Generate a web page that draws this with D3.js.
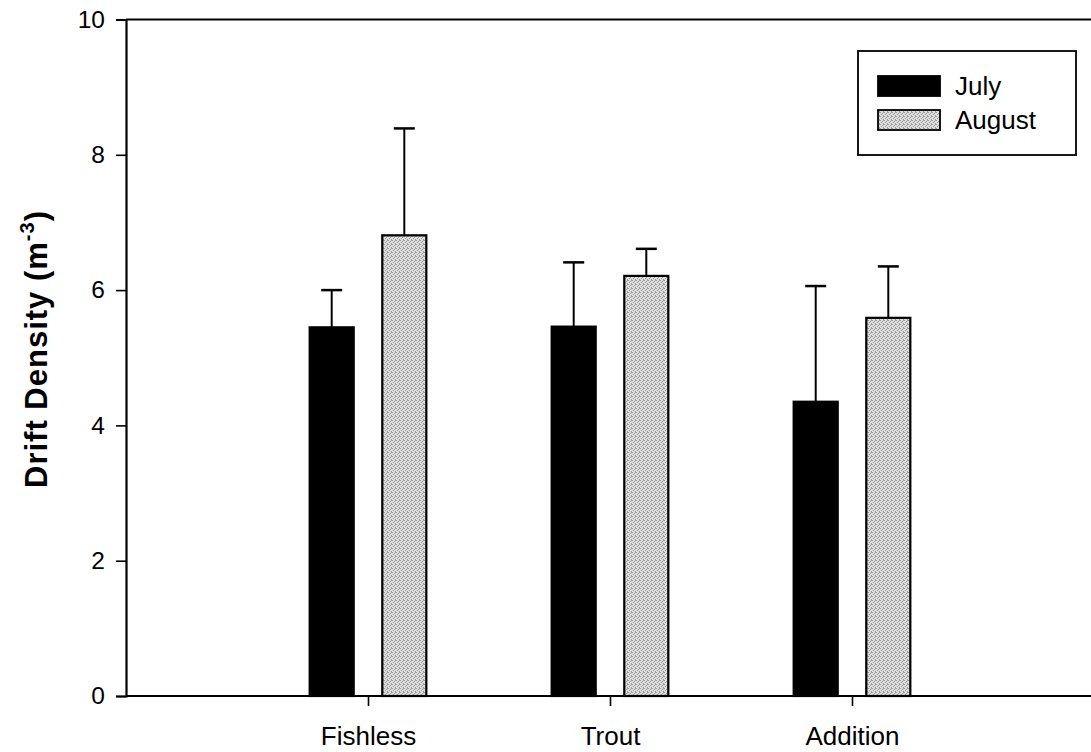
<!DOCTYPE html>
<html>
<head>
<meta charset="utf-8">
<script src="https://cdn.jsdelivr.net/npm/d3@7"></script>
<style>
  html, body { margin: 0; padding: 0; background: #fff; }
  svg { display: block; font-family: "Liberation Sans", Arial, Helvetica, sans-serif; }
</style>
</head>
<body>
<svg id="chart" width="1091" height="752"></svg>
<script>
const categories = ["Fishless", "Trout", "Addition"];
const seriesNames = ["July", "August"];
const julyMeans = [5.45, 5.46, 4.35];
const julyErrors = [0.55, 0.95, 1.71];
const augustMeans = [6.81, 6.21, 5.59];
const augustErrors = [1.58, 0.40, 0.76];
const yTicks = [0, 2, 4, 6, 8, 10];

const svg = d3.select("#chart");

// stippled grey pattern
const defs = svg.append("defs");
const pat = defs.append("pattern").attr("id", "stipple")
  .attr("width", 4).attr("height", 4).attr("patternUnits", "userSpaceOnUse");
pat.append("rect").attr("width", 4).attr("height", 4).attr("fill", "#dedede");
[[0,0],[2,1],[1,2],[3,3],[3,0]].forEach(([px, py]) =>
  pat.append("rect").attr("x", px).attr("y", py).attr("width", 1).attr("height", 1).attr("fill", "#9a9a9a"));

const x = d3.scaleLinear().domain([0, 4]).range([126, 1094]);
const y = d3.scaleLinear().domain([0, 10]).range([696, 19.5]);

const offset = 0.15, barW = 0.182;
const series = [
  { name: seriesNames[0], means: julyMeans, errs: julyErrors, fill: "#000", off: -offset },
  { name: seriesNames[1], means: augustMeans, errs: augustErrors, fill: "url(#stipple)", off: offset }
];

// bars with error bars
series.forEach(s => {
  const g = svg.append("g");
  categories.forEach((c, i) => {
    const cx = x(i + 1 + s.off);
    const w = x(barW) - x(0);
    g.append("rect")
      .attr("x", cx - w / 2).attr("y", y(s.means[i]))
      .attr("width", w).attr("height", y(0) - y(s.means[i]))
      .attr("fill", s.fill).attr("stroke", "#000").attr("stroke-width", 2.2);
    const top = y(s.means[i] + s.errs[i]);
    g.append("line").attr("x1", cx).attr("x2", cx)
      .attr("y1", y(s.means[i])).attr("y2", top)
      .attr("stroke", "#000").attr("stroke-width", 2);
    g.append("line").attr("x1", cx - 10.5).attr("x2", cx + 10.5)
      .attr("y1", top).attr("y2", top)
      .attr("stroke", "#000").attr("stroke-width", 2.5);
  });
});

// top frame line
svg.append("line").attr("x1", x(0)).attr("x2", 1091)
  .attr("y1", y(10)).attr("y2", y(10)).attr("stroke", "#000").attr("stroke-width", 2);

// y axis
const yAxis = d3.axisLeft(y).tickValues(yTicks).tickSize(10).tickPadding(11).tickFormat(d3.format("d"));
const gy = svg.append("g").attr("transform", `translate(${x(0)},0)`).call(yAxis);
gy.select(".domain").attr("stroke-width", 2.2);
gy.selectAll(".tick line").attr("stroke-width", 1.6);
gy.selectAll(".tick text").attr("font-size", 24.5).attr("fill", "#000")
  .attr("font-family", "Liberation Sans, Arial, sans-serif");

// x axis
const xAxis = d3.axisBottom(x).tickValues([1, 2, 3]).tickSize(10).tickSizeOuter(0).tickPadding(21)
  .tickFormat(d => categories[d - 1]);
const gx = svg.append("g").attr("transform", `translate(0,${y(0)})`).call(xAxis);
gx.select(".domain").attr("stroke-width", 2.2).attr("d", `M${x(0)},0H1091`);
gx.selectAll(".tick line").attr("stroke-width", 1.6);
gx.selectAll(".tick text").attr("font-size", 26).attr("fill", "#000")
  .attr("font-family", "Liberation Sans, Arial, sans-serif");

// y title
const title = svg.append("text")
  .attr("transform", "translate(47,349) rotate(-90)")
  .attr("text-anchor", "middle")
  .attr("font-size", 31).attr("font-weight", "bold").attr("fill", "#000")
  .attr("letter-spacing", 1);
title.append("tspan").text("Drift Density (m");
title.append("tspan").attr("font-size", 20).attr("dy", -13).text("-3");
title.append("tspan").attr("dy", 13).text(")");

// legend
const lg = svg.append("g");
lg.append("rect").attr("x", 858).attr("y", 51).attr("width", 218).attr("height", 104)
  .attr("fill", "#fff").attr("stroke", "#000").attr("stroke-width", 1.8);
series.forEach((s, i) => {
  const yy = 76 + i * 34;
  lg.append("rect").attr("x", 878).attr("y", yy).attr("width", 62).attr("height", 20)
    .attr("fill", s.fill).attr("stroke", "#000").attr("stroke-width", 1.8);
  lg.append("text").attr("x", 955).attr("y", yy + 19).attr("font-size", 26).attr("fill", "#000").text(s.name);
});
</script>
</body>
</html>
